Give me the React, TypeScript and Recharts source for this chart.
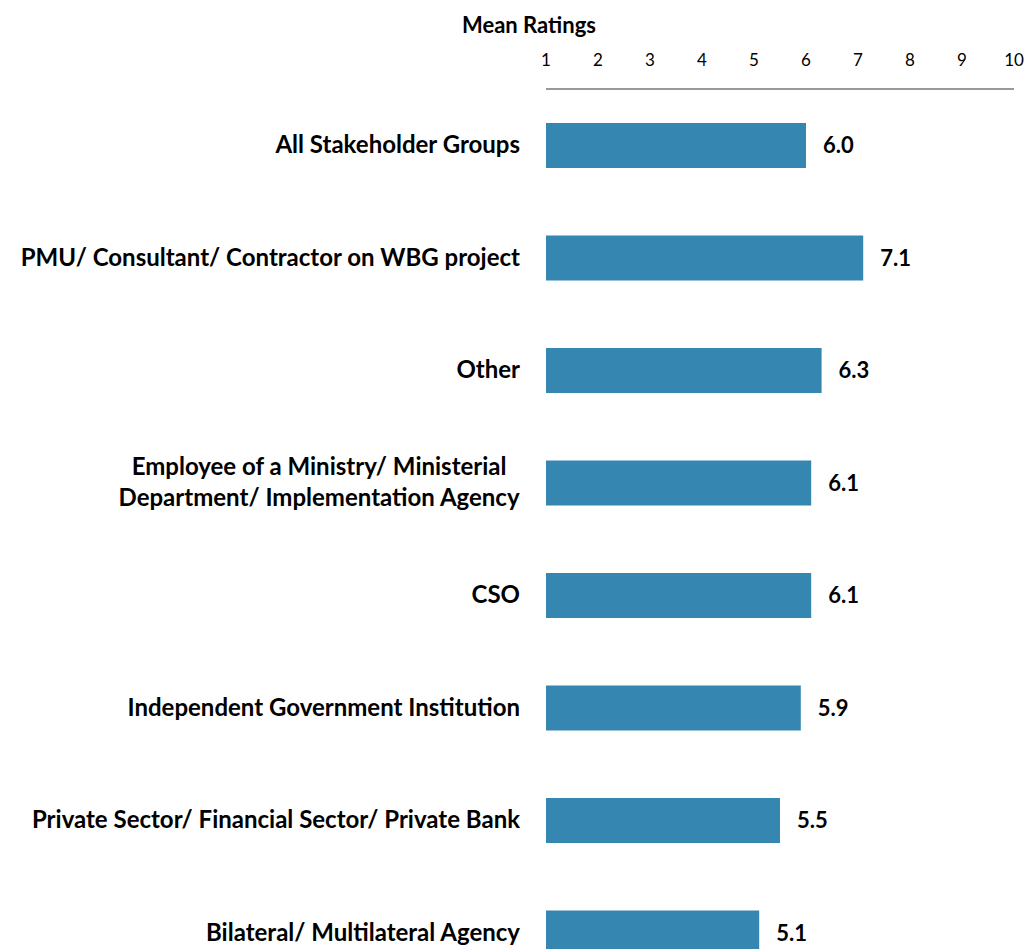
import React from "react";
import { BarChart, Bar, XAxis, YAxis, LabelList } from "recharts";

const groups = [
  "All Stakeholder Groups",
  "PMU/ Consultant/ Contractor on WBG project",
  "Other",
  "Employee of a Ministry/ Ministerial|Department/ Implementation Agency",
  "CSO",
  "Independent Government Institution",
  "Private Sector/ Financial Sector/ Private Bank",
  "Bilateral/ Multilateral Agency",
];
const ratings = [6.0, 7.1, 6.3, 6.1, 6.1, 5.9, 5.5, 5.1];
const ticks = [1, 2, 3, 4, 5, 6, 7, 8, 9, 10];

const data = groups.map((g, i) => ({ name: g, value: ratings[i] }));

const FONT = "Lato, 'Open Sans', sans-serif";
const LABEL_SIZE = 24;

const measure = (s: string) => {
  const ctx = document.createElement("canvas").getContext("2d");
  if (!ctx) return s.length * LABEL_SIZE * 0.5;
  ctx.font = `700 ${LABEL_SIZE}px Lato`;
  return ctx.measureText(s).width;
};

const GroupTick = (props: any) => {
  const { x, y, payload } = props;
  const lines = String(payload.value).split("|");
  const lh = 31;
  const start = -((lines.length - 1) * lh) / 2;
  const multi = lines.length > 1;
  const cx = multi ? x - Math.max(...lines.map(measure)) / 2 : x;
  return (
    <text
      x={cx}
      y={y}
      textAnchor={multi ? "middle" : "end"}
      fontFamily={FONT}
      fontWeight={700}
      fontSize={LABEL_SIZE}
      fill="#000"
    >
      {lines.map((l, i) => (
        <tspan key={i} x={cx} dy={i === 0 ? start + 8 : lh}>
          {l}
        </tspan>
      ))}
    </text>
  );
};

export default function App() {
  return (
    <div style={{ position: "absolute", left: 0, top: 0, width: 1029, height: 949, overflow: "hidden", background: "#fff" }}>
      <div
        style={{
          position: "absolute",
          left: 462,
          top: 11,
          fontFamily: FONT,
          fontWeight: 700,
          fontSize: 22,
          lineHeight: "28px",
        }}
      >
        Mean Ratings
      </div>
      <BarChart
        width={1029}
        height={1000}
        data={data}
        layout="vertical"
        margin={{ top: 54, right: 15, bottom: 11, left: 0 }}
        barCategoryGap={34}
      >
        <XAxis
          type="number"
          orientation="top"
          domain={[1, 10]}
          ticks={ticks}
          height={35}
          tickLine={false}
          tickSize={6}
          tickMargin={17}
          axisLine={{ stroke: "#999", strokeWidth: 2 }}
          tick={{ fill: "#000", fontSize: 17, fontFamily: FONT }}
          interval={0}
        />
        <YAxis
          type="category"
          dataKey="name"
          width={546}
          axisLine={false}
          tickLine={false}
          tick={<GroupTick />}
          tickMargin={26}
          tickSize={0}
          interval={0}
        />
        <Bar dataKey="value" fill="#3586b0" isAnimationActive={false}>
          <LabelList
            dataKey="value"
            position="right"
            offset={17}
            formatter={(v: any) => Number(v).toFixed(1)}
            style={{ fill: "#000", fontFamily: FONT, fontWeight: 700, fontSize: 22 }}
          />
        </Bar>
      </BarChart>
    </div>
  );
}
